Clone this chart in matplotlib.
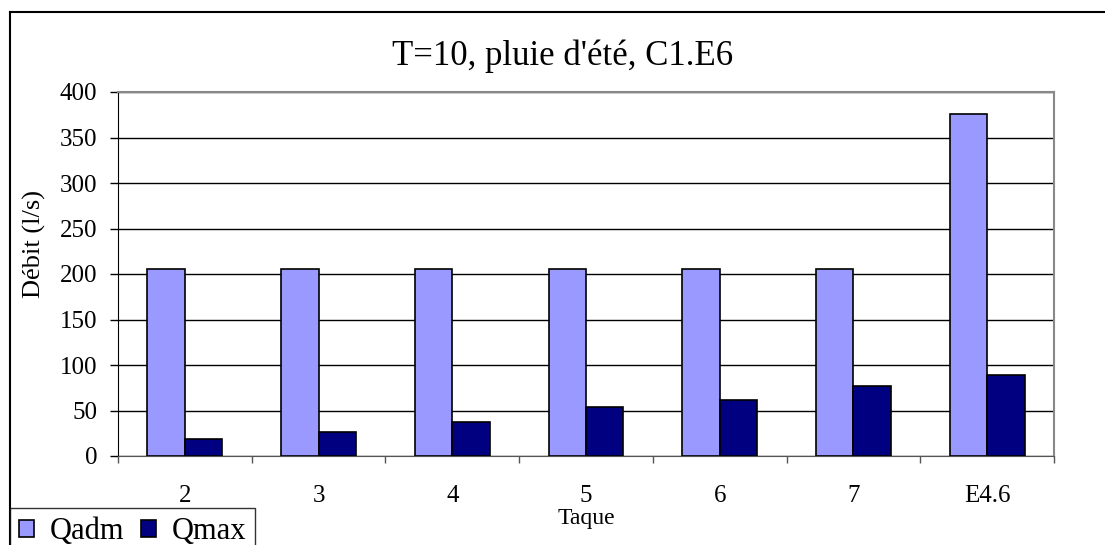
import matplotlib.pyplot as plt
import numpy as np
from matplotlib.lines import Line2D

plt.rcParams['font.family'] = ['Liberation Serif', 'DejaVu Serif']

# data
taques = ["2", "3", "4", "5", "6", "7", "E4.6"]
qadm = [205, 205, 205, 205, 205, 205, 376]
qmax = [19, 26, 37, 54, 61, 77, 89]

W, H = 1105, 545
fig = plt.figure(figsize=(W / 100, H / 100), dpi=100)
ax = fig.add_axes([118 / W, 1 - 456 / H, (1054 - 118) / W, (456 - 92) / H])

x = np.arange(len(taques))
bw = 0.28
ax.bar(x - bw / 2, qadm, bw, color='#9999FF', edgecolor='black', linewidth=1.2,
       label='Qadm', zorder=3)
ax.bar(x + bw / 2, qmax, bw, color='#000080', edgecolor='black', linewidth=1.2,
       label='Qmax', zorder=3)

ax.set_xlim(-0.5, len(taques) - 0.5)
ax.set_ylim(0, 400)
ax.set_yticks(range(0, 401, 50))
ax.yaxis.grid(True, color='black', linewidth=1, zorder=0)

# category labels in the middle, ticks at boundaries
ax.set_xticks(x)
ax.set_xticklabels(taques, fontsize=18)
ax.tick_params(axis='x', which='major', length=0, pad=21)
ax.set_xticks(np.arange(-0.5, len(taques) + 0.5, 1), minor=True)
ax.tick_params(axis='x', which='minor', length=5, color='#555555', width=1)
ax.tick_params(axis='y', labelsize=18, length=6, width=1, color='black', pad=9)

for side in ['top', 'right']:
    ax.spines[side].set_color('#888888')
    ax.spines[side].set_linewidth(1.5)
ax.spines['left'].set_color('black')
ax.spines['bottom'].set_color('#555555')

fig.text(563 / W, 1 - 65 / H, "T=10, pluie d'été, C1.E6", fontsize=25,
         ha='center', va='baseline')
ax.set_ylabel("Débit (l/s)", fontsize=19)
ax.yaxis.set_label_coords(-0.077, (456 - 244) / 364)
ax.set_xlabel("Taque", fontsize=17, labelpad=0.5)

# outer chart border (top and left visible)
fig.add_artist(Line2D([10 / W, 10 / W], [0, 1 - 12 / H], color='black',
                      linewidth=1.5, transform=fig.transFigure))
fig.add_artist(Line2D([10 / W, 1], [1 - 12 / H, 1 - 12 / H], color='black',
                      linewidth=1.5, transform=fig.transFigure))

leg = fig.legend(loc='upper left', bbox_to_anchor=(10 / W, 1 - 508 / H), ncol=2,
                 fontsize=22, frameon=True, fancybox=False, shadow=False,
                 handlelength=0.5, handleheight=0.5, handletextpad=0.5,
                 columnspacing=0.55, borderpad=0.3, borderaxespad=0)
leg.get_frame().set_edgecolor('black')
leg.get_frame().set_linewidth(1)

fig.savefig('out.png', dpi=100)
